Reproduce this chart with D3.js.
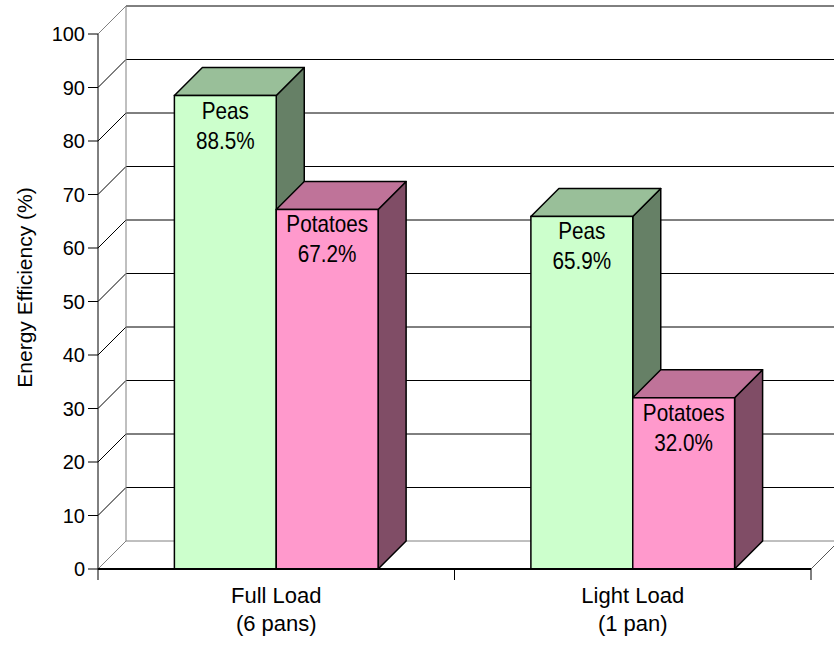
<!DOCTYPE html>
<html>
<head>
<meta charset="utf-8">
<script src="https://cdn.jsdelivr.net/npm/d3@7"></script>
<style>
  html, body { margin: 0; padding: 0; background: #fff; }
  svg { display: block; }
  .tick-label { font-family: "Liberation Sans", Arial, sans-serif; font-size: 20px; fill: #000; }
  .cat-label { font-family: "Liberation Sans", Arial, sans-serif; font-size: 22px; fill: #000; }
  .axis-title { font-family: "Liberation Sans", Arial, sans-serif; font-size: 21px; fill: #000; }
  .bar-label { font-family: "Liberation Sans Narrow", "Arial Narrow", "Liberation Sans", sans-serif; font-size: 23px; fill: #000; }
</style>
</head>
<body>
<svg id="chart" width="834" height="646"></svg>
<script>
// Energy efficiency of cooking loads, by food
const categories = [["Full Load", "(6 pans)"], ["Light Load", "(1 pan)"]];
const series = ["Peas", "Potatoes"];
const peasValues = [88.5, 65.9];
const potatoValues = [67.2, 32.0];
const yTicks = [0, 10, 20, 30, 40, 50, 60, 70, 80, 90, 100];

const seriesValues = { Peas: peasValues, Potatoes: potatoValues };
const seriesColors = {
  Peas:     { front: "#ccffcc", top: "#99bf99", side: "#668066" },
  Potatoes: { front: "#ff99cc", top: "#bf7399", side: "#804d66" }
};

const svg = d3.select("#chart");
const plotLeft = 98, plotRight = 811, plotTop = 34, plotBottom = 569;
const depth = 28; // 3-D offset of the back wall

const y = d3.scaleLinear().domain([0, 100]).range([plotBottom, plotTop]);
const x = d3.scaleBand().domain(d3.range(categories.length)).range([plotLeft, plotRight]).paddingInner(0).paddingOuter(0);
const xs = d3.scaleBand().domain(series).range([0, x.bandwidth()]).paddingInner(0).paddingOuter(0.75);

const wall = svg.append("g");

// back wall gridlines
wall.selectAll("line.grid").data(yTicks).join("line")
  .attr("x1", plotLeft + depth).attr("x2", plotRight + depth)
  .attr("y1", d => y(d) - depth).attr("y2", d => y(d) - depth)
  .attr("stroke", d => d === 0 ? "#808080" : "#000").attr("stroke-width", 1);

// side wall diagonals from the front axis to the back wall
wall.selectAll("line.diag").data(yTicks).join("line")
  .attr("x1", plotLeft).attr("y1", d => y(d))
  .attr("x2", plotLeft + depth).attr("y2", d => y(d) - depth)
  .attr("stroke", d => d === 100 || d === 0 ? "#808080" : "#000").attr("stroke-width", 1);

// back wall left edge
wall.append("line")
  .attr("x1", plotLeft + depth).attr("x2", plotLeft + depth)
  .attr("y1", y(100) - depth).attr("y2", y(0) - depth)
  .attr("stroke", "#808080").attr("stroke-width", 1);

// floor right edge
wall.append("line")
  .attr("x1", plotRight).attr("y1", y(0))
  .attr("x2", plotRight + depth).attr("y2", y(0) - depth)
  .attr("stroke", "#555").attr("stroke-width", 1);

// 3-D bars
const bars = svg.append("g");
categories.forEach((cat, i) => {
  series.forEach(s => {
    const v = seriesValues[s][i];
    const x0 = x(i) + xs(s), x1 = x0 + xs.bandwidth();
    const y0 = y(0), y1 = y(v);
    const c = seriesColors[s];
    const g = bars.append("g");
    g.append("path")
      .attr("d", `M${x1},${y1} L${x1 + depth},${y1 - depth} L${x1 + depth},${y0 - depth} L${x1},${y0} Z`)
      .attr("fill", c.side).attr("stroke", "#000").attr("stroke-width", 1.5).attr("stroke-linejoin", "round");
    g.append("path")
      .attr("d", `M${x0},${y1} L${x0 + depth},${y1 - depth} L${x1 + depth},${y1 - depth} L${x1},${y1} Z`)
      .attr("fill", c.top).attr("stroke", "#000").attr("stroke-width", 1.5).attr("stroke-linejoin", "round");
    g.append("rect")
      .attr("x", x0).attr("y", y1).attr("width", x1 - x0).attr("height", y0 - y1)
      .attr("fill", c.front).attr("stroke", "#000").attr("stroke-width", 1.5);
    const cx = (x0 + x1) / 2;
    // condensed value labels inside the front face
    [s, v.toFixed(1) + "%"].forEach((txt, k) => {
      g.append("text").attr("class", "bar-label")
        .attr("transform", `translate(${cx}, ${y1 + 23 + k * 30}) scale(0.9, 1)`)
        .attr("text-anchor", "middle").text(txt);
    });
  });
});

// front value axis
const axisG = svg.append("g");
axisG.append("line")
  .attr("x1", plotLeft).attr("x2", plotLeft).attr("y1", y(100)).attr("y2", y(0))
  .attr("stroke", "#000").attr("stroke-width", 1);
axisG.selectAll("line.tick").data(yTicks).join("line")
  .attr("x1", plotLeft - 10).attr("x2", plotLeft)
  .attr("y1", d => y(d)).attr("y2", d => y(d))
  .attr("stroke", "#000").attr("stroke-width", 1);
axisG.selectAll("text.tick-label").data(yTicks).join("text")
  .attr("class", "tick-label")
  .attr("x", plotLeft - 13).attr("y", d => y(d))
  .attr("dy", "0.36em").attr("text-anchor", "end")
  .text(d => d);

// category axis
const catAxis = svg.append("g");
catAxis.append("line")
  .attr("x1", plotLeft).attr("x2", plotRight).attr("y1", y(0)).attr("y2", y(0))
  .attr("stroke", "#000").attr("stroke-width", 2);
const catEdges = d3.range(categories.length + 1).map(i => i < categories.length ? x(i) : plotRight);
catAxis.selectAll("line.ctick").data(catEdges).join("line")
  .attr("x1", d => d).attr("x2", d => d)
  .attr("y1", y(0)).attr("y2", y(0) + 11)
  .attr("stroke", "#000").attr("stroke-width", 1);
categories.forEach((lines, i) => {
  const cx = x(i) + x.bandwidth() / 2;
  const t = catAxis.append("text").attr("class", "cat-label")
    .attr("x", cx).attr("y", 603).attr("text-anchor", "middle");
  lines.forEach((ln, k) => {
    t.append("tspan").attr("x", cx).attr("dy", k === 0 ? 0 : 28).text(ln);
  });
});

// value axis title
svg.append("text").attr("class", "axis-title")
  .attr("transform", `translate(32, ${(y(100) + y(0)) / 2 - 14}) rotate(-90)`)
  .attr("text-anchor", "middle")
  .text("Energy Efficiency (%)");
</script>
</body>
</html>
